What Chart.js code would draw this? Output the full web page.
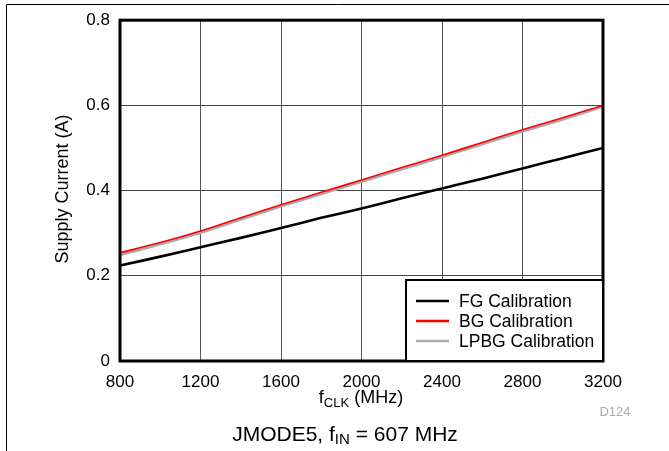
<!DOCTYPE html>
<html>
<head>
<meta charset="utf-8">
<script src="https://cdn.jsdelivr.net/npm/chart.js@4.4.0/dist/chart.umd.min.js"></script>
<style>
  html, body { margin: 0; padding: 0; background: #fff; }
  #wrap { width: 669px; height: 451px; position: relative; }
</style>
</head>
<body>
<div id="wrap"><canvas id="c"></canvas></div>
<script>
// values
const freqMHz = [800, 1000, 1200, 1400, 1600, 1800, 2000, 2200, 2400, 2600, 2800, 3000, 3200];
const fgCal   = [0.224, 0.245, 0.267, 0.289, 0.312, 0.336, 0.358, 0.382, 0.405, 0.428, 0.452, 0.476, 0.500];
const bgCal   = [0.254, 0.278, 0.305, 0.336, 0.367, 0.396, 0.425, 0.454, 0.483, 0.513, 0.543, 0.571, 0.600];
const lpbgCal = [0.249, 0.274, 0.301, 0.332, 0.363, 0.392, 0.421, 0.450, 0.479, 0.509, 0.539, 0.567, 0.597];
const xTicks = [800, 1200, 1600, 2000, 2400, 2800, 3200];
const yTicks = [0, 0.2, 0.4, 0.6, 0.8];
const seriesNames = ['FG Calibration', 'BG Calibration', 'LPBG Calibration'];

const FONT = '"Liberation Sans", Arial, Helvetica, sans-serif';

function pts(arr){ return freqMHz.map((f, i) => ({ x: f, y: arr[i] })); }

// text with a subscript part: parts = [[text, isSub], ...]
function subText(ctx, parts, cx, cy, size, align){
  const subSize = Math.round(size * 0.72);
  let total = 0;
  parts.forEach(p => {
    ctx.font = (p[1] ? subSize : size) + 'px ' + FONT;
    total += ctx.measureText(p[0]).width;
  });
  let x = align === 'center' ? cx - total / 2 : cx;
  ctx.textAlign = 'left';
  ctx.textBaseline = 'middle';
  parts.forEach(p => {
    ctx.font = (p[1] ? subSize : size) + 'px ' + FONT;
    ctx.fillText(p[0], x, p[1] ? cy + 5 : cy);
    x += ctx.measureText(p[0]).width;
  });
}

const extras = {
  id: 'extras',
  afterDraw(chart){
    const ctx = chart.ctx;
    const a = chart.chartArea;
    ctx.save();

    // plot frame
    ctx.strokeStyle = '#000';
    ctx.lineWidth = 3;
    ctx.strokeRect(a.left, a.top, a.right - a.left, a.bottom - a.top);

    // legend inside plot
    const lx = 406, ly = 280, lw = a.right - 406, lh = a.bottom - 280;
    ctx.fillStyle = '#fff';
    ctx.fillRect(lx, ly, lw, lh);
    ctx.lineWidth = 2;
    ctx.strokeRect(lx, ly, lw, lh);
    chart.data.datasets.forEach((ds, i) => {
      const y = 301 + i * 20;
      ctx.strokeStyle = ds.borderColor;
      ctx.lineWidth = 2.5;
      ctx.beginPath(); ctx.moveTo(416, y); ctx.lineTo(449, y); ctx.stroke();
      ctx.fillStyle = '#000';
      ctx.font = '17.5px ' + FONT;
      ctx.textAlign = 'left';
      ctx.textBaseline = 'middle';
      ctx.fillText(ds.label, 459, y + 1);
    });

    // axis titles
    ctx.fillStyle = '#000';
    subText(ctx, [['f', false], ['CLK', true], [' (MHz)', false]], 361, 398, 18, 'center');
    ctx.save();
    ctx.translate(63, 189);
    ctx.rotate(-Math.PI / 2);
    ctx.font = '18px ' + FONT;
    ctx.textAlign = 'center';
    ctx.textBaseline = 'middle';
    ctx.fillText('Supply Current (A)', 0, 0);
    ctx.restore();

    // figure id and caption
    ctx.fillStyle = '#aaa';
    ctx.font = '13px ' + FONT;
    ctx.textAlign = 'center';
    ctx.textBaseline = 'middle';
    ctx.fillText('D124', 615, 412);
    ctx.fillStyle = '#000';
    subText(ctx, [['JMODE5, f', false], ['IN', true], [' = 607 MHz', false]], 345, 435, 21, 'center');

    // outer page frame
    ctx.strokeStyle = '#000';
    ctx.lineWidth = 1;
    ctx.beginPath();
    ctx.moveTo(6.5, 451); ctx.lineTo(6.5, 4.5); ctx.lineTo(669, 4.5);
    ctx.stroke();
    ctx.restore();
  }
};

new Chart(document.getElementById('c'), {
  type: 'line',
  data: {
    datasets: [
      { label: seriesNames[0], data: pts(fgCal),   borderColor: '#000000', borderWidth: 2.6 },
      { label: seriesNames[1], data: pts(bgCal),   borderColor: '#ff0000', borderWidth: 1.6 },
      { label: seriesNames[2], data: pts(lpbgCal), borderColor: '#aaaaaa', borderWidth: 2.6 }
    ]
  },
  options: {
    responsive: true,
    maintainAspectRatio: false,
    animation: false,
    events: [],
    elements: { point: { radius: 0 }, line: { tension: 0.3, fill: false } },
    layout: { padding: { left: 0, top: 18, right: 66, bottom: 0 } },
    plugins: { legend: { display: false }, tooltip: { enabled: false } },
    scales: {
      x: {
        type: 'linear', min: 800, max: 3200,
        afterBuildTicks: s => { s.ticks = xTicks.map(v => ({ value: v })); },
        afterFit: s => { s.height = 90; },
        grid: { color: '#555', lineWidth: 1, drawTicks: false },
        border: { display: false },
        ticks: { color: '#000', font: { family: FONT, size: 17 }, padding: 11, maxRotation: 0, callback: v => String(v) }
      },
      y: {
        min: 0, max: 0.8,
        afterBuildTicks: s => { s.ticks = yTicks.map(v => ({ value: v })); },
        afterFit: s => { s.width = 120; },
        grid: { color: '#444', lineWidth: 1, drawTicks: false },
        border: { display: false },
        ticks: { color: '#000', font: { family: FONT, size: 17 }, padding: 10, callback: v => String(Math.round(v * 10) / 10) }
      }
    }
  },
  plugins: [extras]
});
</script>
</body>
</html>
